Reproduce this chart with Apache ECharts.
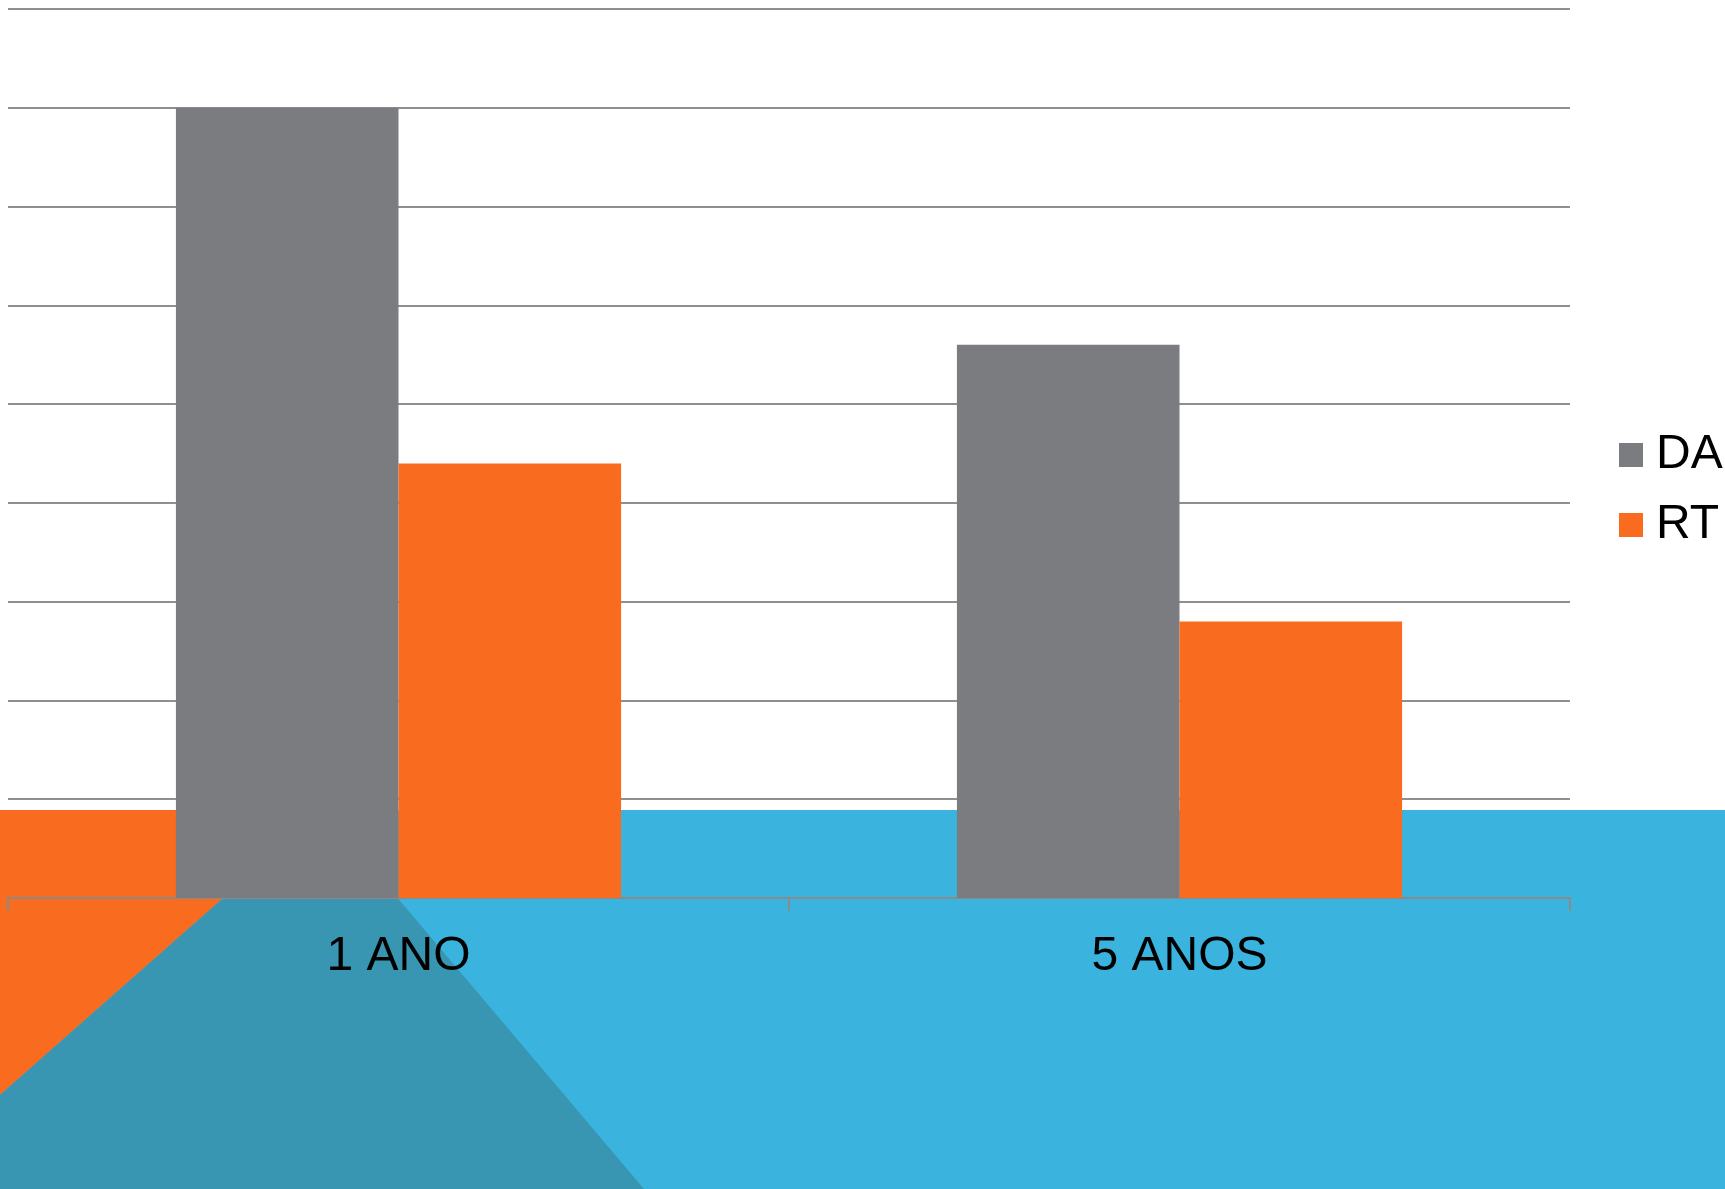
<!DOCTYPE html>
<html>
<head>
<meta charset="utf-8">
<script src="https://cdn.jsdelivr.net/npm/echarts@6/dist/echarts.min.js"></script>
<style>
html,body{margin:0;padding:0;background:#fff;}
#chart{width:1725px;height:1189px;}
</style>
</head>
<body>
<div id="chart"></div>
<script>
// Data
var categories = ['1 ANO', '5 ANOS'];
var seriesNames = ['DA', 'RT'];
var daValues = [80, 56];
var rtValues = [44, 28];

var FONT = "'Liberation Sans', Arial, sans-serif";
var chart = echarts.init(document.getElementById('chart'), null, {renderer: 'canvas'});

var option = {
  backgroundColor: '#ffffff',
  animation: false,
  graphic: {
    elements: [
      { type: 'rect', z: -100, shape: {x: 0, y: 810, width: 1725, height: 379}, style: {fill: '#3AB3DF'} },
      { type: 'polygon', z: -99, shape: {points: [[0, 810], [323, 810], [0, 1095]]}, style: {fill: '#F96B1E'} },
      { type: 'polygon', z: -99, shape: {points: [[323, 810], [644, 1189], [0, 1189], [0, 1095]]}, style: {fill: '#3996B3'} }
    ]
  },
  grid: { left: 8, right: 155, top: 9, bottom: 291, containLabel: false },
  legend: {
    orient: 'vertical',
    left: 1614,
    top: 426,
    itemWidth: 24,
    itemHeight: 24,
    itemGap: 22,
    icon: 'rect',
    data: seriesNames,
    textStyle: { fontFamily: FONT, fontSize: 48, lineHeight: 48, color: '#000', padding: [0, 0, 0, 8] }
  },
  xAxis: {
    type: 'category',
    data: categories,
    boundaryGap: true,
    axisLine: { show: true, lineStyle: { color: '#8a8a8a', width: 2 } },
    axisTick: { show: true, length: 13, lineStyle: { color: '#8a8a8a', width: 2 } },
    axisLabel: { fontFamily: FONT, fontSize: 48, lineHeight: 48, color: '#000', margin: 35 }
  },
  yAxis: {
    type: 'value',
    min: 0,
    max: 90,
    interval: 10,
    axisLine: { show: false },
    axisTick: { show: false },
    axisLabel: { show: false },
    splitLine: { show: true, lineStyle: { color: '#8f8f8f', width: 2 } }
  },
  series: [
    { name: 'DA', type: 'bar', data: daValues, barGap: '0%', barCategoryGap: '43%', itemStyle: { color: '#7B7C80' } },
    { name: 'RT', type: 'bar', data: rtValues, barGap: '0%', barCategoryGap: '43%', itemStyle: { color: '#F96B1E' } }
  ]
};
chart.setOption(option);
</script>
</body>
</html>
